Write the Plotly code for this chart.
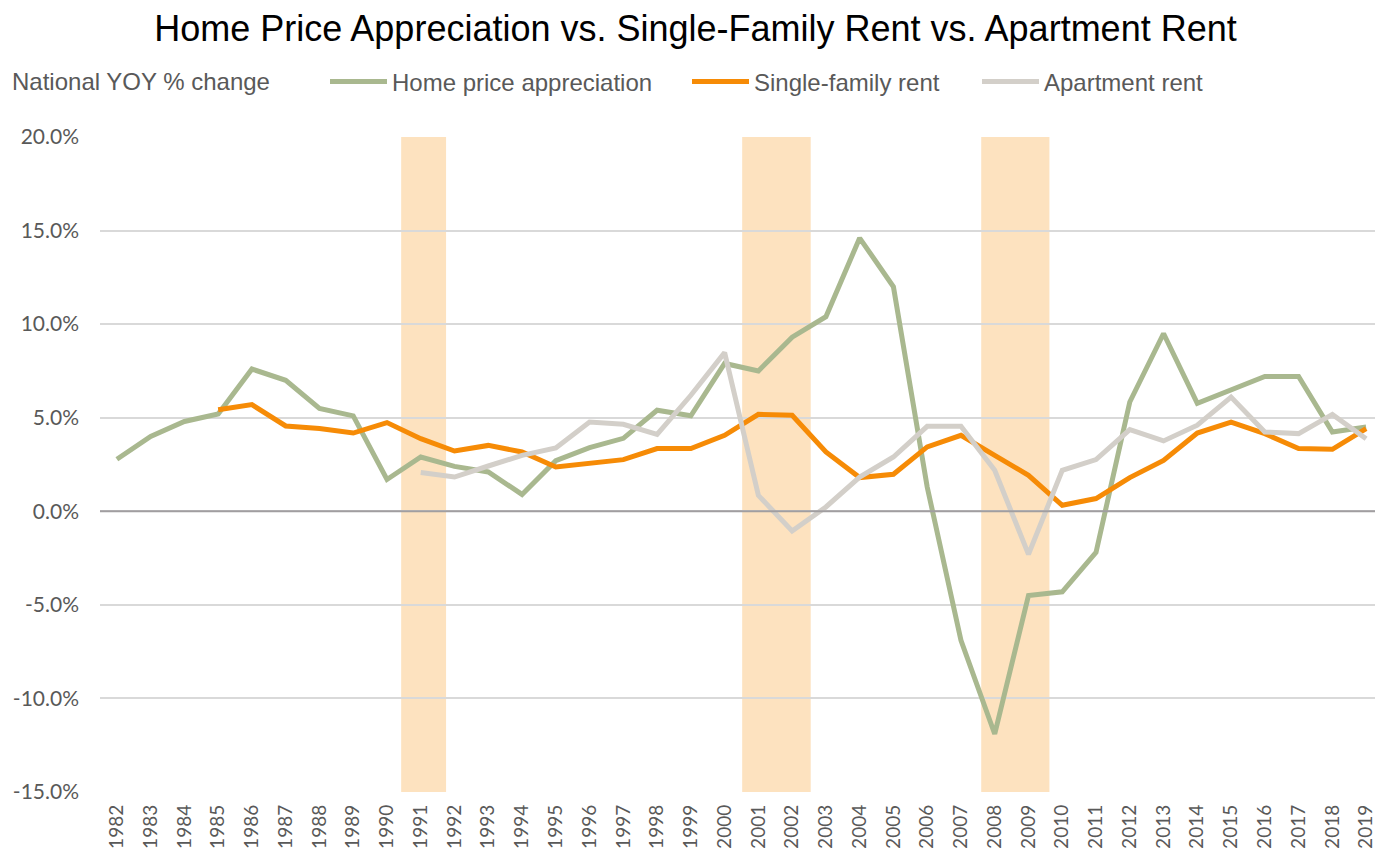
import plotly.graph_objects as go

years = list(range(1982, 2020))

home_price = [2.78, 4.0, 4.8, 5.2, 7.6, 7.0, 5.5, 5.1, 1.7, 2.9,
              2.4, 2.1, 0.9, 2.7, 3.4, 3.9, 5.4, 5.1, 7.9, 7.5,
              9.3, 10.4, 14.6, 12.0, 1.3, -6.9, -11.9, -4.5, -4.3, -2.2,
              5.84, 9.5, 5.77, 6.5, 7.2, 7.2, 4.24, 4.5]

sf_years = list(range(1985, 2020))
single_family = [5.43, 5.7, 4.56, 4.42, 4.18, 4.74, 3.88, 3.22, 3.52, 3.17,
                 2.37, 2.55, 2.76, 3.35, 3.35, 4.06, 5.18, 5.13, 3.17, 1.8,
                 1.98, 3.44, 4.06, 2.99, 1.92, 0.32, 0.68, 1.8, 2.72, 4.18,
                 4.77, 4.15, 3.35, 3.31, 4.42]

apt_years = list(range(1991, 2020))
apartment = [2.07, 1.83, 2.42, 2.99, 3.38, 4.77, 4.65, 4.11, 6.2, 8.48,
             0.85, -1.05, 0.23, 1.83, 2.9, 4.54, 4.54, 2.19, -2.3, 2.19,
             2.76, 4.36, 3.76, 4.6, 6.1, 4.24, 4.15, 5.18, 3.88]

recessions = [(1990.42, 1991.75), (2000.52, 2002.55), (2007.6, 2009.62)]

y_ticks = [-15, -10, -5, 0, 5, 10, 15, 20]
y_labels = [f"{v:.1f}%" for v in y_ticks]

GREEN = "#a9b88f"
ORANGE = "#f68b06"
GRAY = "#d3cfc9"
TXT = "#595959"
ARIAL = "Liberation Sans, Arial, sans-serif"

W, H = 1375, 840
ML, MR, MT, MB = 92, 0, 129, 56
pw = W - ML - MR
ph = H - MT - MB

def px2paper_x(px):
    return (px - ML) / pw

def px2paper_y(py):
    return 1 - (py - MT) / ph

fig = go.Figure()

fig.add_trace(go.Scatter(x=years, y=home_price, mode="lines", name="Home price appreciation",
                         line=dict(color=GREEN, width=5), legend="legend", showlegend=True))
fig.add_trace(go.Scatter(x=sf_years, y=single_family, mode="lines", name="Single-family rent",
                         line=dict(color=ORANGE, width=5), legend="legend2", showlegend=True))
fig.add_trace(go.Scatter(x=apt_years, y=apartment, mode="lines", name="Apartment rent",
                         line=dict(color=GRAY, width=5), legend="legend3", showlegend=True))

for x0, x1 in recessions:
    fig.add_shape(type="rect", xref="x", yref="y", x0=x0, x1=x1, y0=-15, y1=20,
                  fillcolor="#fde2bf", line_width=0, layer="below")

fig.add_shape(type="line", xref="paper", yref="y", x0=0, x1=1, y0=0, y1=0,
              line=dict(color="#a19ea0", width=2))

leg_y = px2paper_y(74)
leg_common = dict(orientation="h", xanchor="left", yanchor="middle", y=leg_y, yref="paper",
                  font=dict(family=ARIAL, size=24, color=TXT),
                  itemwidth=57, bgcolor="rgba(0,0,0,0)", borderwidth=0)

fig.update_layout(
    width=W, height=H,
    showlegend=True,
    margin=dict(l=ML, r=MR, t=MT, b=MB),
    plot_bgcolor="white", paper_bgcolor="white",
    title=dict(text="Home Price Appreciation vs. Single-Family Rent vs. Apartment Rent",
               x=0.5, xanchor="center", y=1 - 20 / H, yanchor="middle",
               font=dict(family=ARIAL, size=36, color="black")),
    xaxis=dict(range=[1981.5, 2019.5], tickmode="array", tickvals=years,
               ticktext=[str(y) for y in years], tickangle=-90,
               tickfont=dict(family="Lato, sans-serif", size=19, color=TXT),
               showgrid=False, zeroline=False, showline=False, ticks="",
               ticklabelstandoff=8),
    yaxis=dict(range=[-15, 20], tickmode="array", tickvals=y_ticks, ticktext=y_labels,
               tickfont=dict(family="Lato, sans-serif", size=21, color=TXT),
               showgrid=True, gridcolor="#d9d9d9", gridwidth=1.5, zeroline=False,
               showline=False, ticks="", ticklabelstandoff=20),
    legend=dict(x=px2paper_x(317), **leg_common),
    legend2=dict(x=px2paper_x(679), **leg_common),
    legend3=dict(x=px2paper_x(969), **leg_common),
    annotations=[dict(text="National YOY % change", xref="paper", yref="paper",
                      x=px2paper_x(2), y=leg_y, xanchor="left", yanchor="middle", showarrow=False,
                      font=dict(family=ARIAL, size=24, color=TXT))],
)

fig.write_html("out.html")
